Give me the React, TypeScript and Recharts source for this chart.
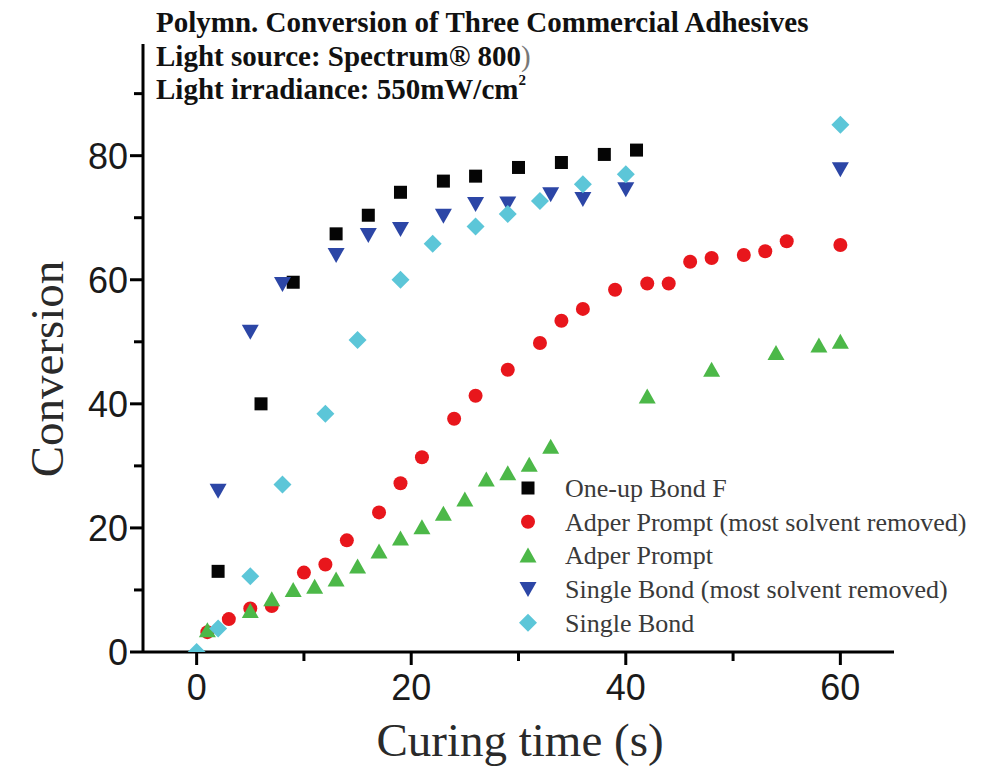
import React from 'react';
import { ScatterChart, Scatter, XAxis, YAxis } from 'recharts';

// ---- data (x = curing time s, y = conversion %) ----
const oneUpBondF: [number, number][] = [
  [2, 13.0], [6, 40.0], [9, 59.6], [13, 67.4], [16, 70.4], [19, 74.1], [23, 75.9],
  [26, 76.7], [30, 78.1], [34, 78.9], [38, 80.2], [41, 80.9],
];
const adperPromptDry: [number, number][] = [
  [1, 3.2], [3, 5.3], [5, 7.0], [7, 7.4], [10, 12.8], [12, 14.1], [14, 18.0], [17, 22.5],
  [19, 27.2], [21, 31.4], [24, 37.6], [26, 41.3], [29, 45.5], [32, 49.8], [34, 53.4],
  [36, 55.3], [39, 58.4], [42, 59.4], [44, 59.4], [46, 62.9], [48, 63.5], [51, 64.0],
  [53, 64.6], [55, 66.2], [60, 65.6],
];
const adperPrompt: [number, number][] = [
  [1, 3.5], [5, 6.6], [7, 8.5], [9, 10.0], [11, 10.5], [13, 11.7], [15, 13.8], [17, 16.2],
  [19, 18.3], [21, 20.1], [23, 22.3], [25, 24.6], [27, 27.8], [29, 28.8], [31, 30.2],
  [33, 33.1], [42, 41.2], [48, 45.5], [54, 48.2], [58, 49.4], [60, 50.0],
];
const singleBondDry: [number, number][] = [
  [2, 26.0], [5, 51.6], [8, 59.3], [13, 64.0], [16, 67.2], [19, 68.2], [23, 70.3],
  [26, 72.2], [29, 72.3], [33, 73.8], [36, 73.0], [40, 74.6], [60, 77.8],
];
const singleBond: [number, number][] = [
  [0, 0], [2, 3.8], [5, 12.2], [8, 27.0], [12, 38.4], [15, 50.3], [19, 60.0], [22, 65.8],
  [26, 68.6], [29, 70.6], [32, 72.7], [36, 75.4], [40, 77.0], [60, 85.0],
];

const xTicks = [0, 10, 20, 30, 40, 50, 60];
const xLabeled = [0, 20, 40, 60];
const yTicks = [0, 10, 20, 30, 40, 50, 60, 70, 80, 90];
const yLabeled = [0, 20, 40, 60, 80];

const titleLines = [
  'Polymn. Conversion of Three Commercial Adhesives',
  'Light source: Spectrum® 800',
  'Light irradiance: 550mW/cm',
];

type ShapeKind = 'square' | 'circle' | 'triangleUp' | 'triangleDown' | 'diamond';

const SERIES: { name: string; data: [number, number][]; color: string; shape: ShapeKind }[] = [
  { name: 'One-up Bond F', data: oneUpBondF, color: '#050505', shape: 'square' },
  { name: 'Adper Prompt (most solvent removed)', data: adperPromptDry, color: '#e8161c', shape: 'circle' },
  { name: 'Adper Prompt', data: adperPrompt, color: '#4cb848', shape: 'triangleUp' },
  { name: 'Single Bond (most solvent removed)', data: singleBondDry, color: '#2c46a6', shape: 'triangleDown' },
  { name: 'Single Bond', data: singleBond, color: '#5cc6d8', shape: 'diamond' },
];

function Marker({ kind, cx, cy, color }: { kind: ShapeKind; cx: number; cy: number; color: string }) {
  switch (kind) {
    case 'square':
      return <rect x={cx - 6.5} y={cy - 6.5} width={13} height={13} fill={color} />;
    case 'circle':
      return <circle cx={cx} cy={cy} r={7} fill={color} />;
    case 'triangleUp':
      return <polygon points={`${cx},${cy - 8} ${cx - 8.5},${cy + 7} ${cx + 8.5},${cy + 7}`} fill={color} />;
    case 'triangleDown':
      return <polygon points={`${cx - 8.5},${cy - 7} ${cx + 8.5},${cy - 7} ${cx},${cy + 8}`} fill={color} />;
    case 'diamond':
      return <polygon points={`${cx},${cy - 9} ${cx + 9},${cy} ${cx},${cy + 9} ${cx - 9},${cy}`} fill={color} />;
  }
  return null;
}

const TICK_FONT = '"Liberation Sans", Arial, sans-serif';
const SERIF = '"Liberation Serif", "Times New Roman", serif';

function XTick(props: any) {
  const { x, y, payload } = props;
  const v = payload.value;
  const major = xLabeled.includes(v);
  return (
    <g>
      <line x1={x} y1={y} x2={x} y2={y + (major ? 13 : 9)} stroke="#000" strokeWidth={3} />
      {major && (
        <text x={x} y={y + 48} textAnchor="middle" fontSize={36} fontFamily={TICK_FONT} fill="#1a1a1a">
          {v}
        </text>
      )}
    </g>
  );
}

function YTick(props: any) {
  const { x, y, payload } = props;
  const v = payload.value;
  const major = yLabeled.includes(v);
  return (
    <g>
      <line x1={x} y1={y} x2={x - (major ? 13 : 9)} y2={y} stroke="#000" strokeWidth={3} />
      {major && (
        <text x={x - 15} y={y + 13} textAnchor="end" fontSize={36} fontFamily={TICK_FONT} fill="#1a1a1a">
          {v}
        </text>
      )}
    </g>
  );
}

export default function App() {
  return (
    <div style={{ position: 'absolute', left: 0, top: 0, width: 984, height: 771, background: '#fff' }}>
      <ScatterChart width={984} height={771} margin={{ top: 44, right: 90, bottom: 59, left: 83 }}>
        <XAxis
          type="number"
          dataKey="x"
          domain={[-5, 65]}
          ticks={xTicks}
          interval={0}
          height={60}
          tickSize={0}
          tickMargin={0}
          tickLine={false}
          axisLine={{ stroke: '#000', strokeWidth: 3 }}
          tick={<XTick />}
          allowDataOverflow
        />
        <YAxis
          type="number"
          dataKey="y"
          domain={[0, 98]}
          ticks={yTicks}
          interval={0}
          width={60}
          tickSize={0}
          tickMargin={0}
          tickLine={false}
          axisLine={{ stroke: '#000', strokeWidth: 3 }}
          tick={<YTick />}
          allowDataOverflow
        />
        {SERIES.map((s) => (
          <Scatter
            key={s.name}
            name={s.name}
            data={s.data.map(([x, y]) => ({ x, y }))}
            fill={s.color}
            isAnimationActive={false}
            shape={(p: any) => <Marker kind={s.shape} cx={p.cx} cy={p.cy} color={s.color} />}
          />
        ))}
      </ScatterChart>
      <svg
        width={984}
        height={771}
        style={{ position: 'absolute', left: 0, top: 0, pointerEvents: 'none' }}
      >
        {/* title block */}
        <text x={156} y={32} fontSize={29} fontWeight="bold" fontFamily={SERIF} fill="#111">
          {titleLines[0]}
        </text>
        <text x={156} y={66} fontSize={29} fontWeight="bold" fontFamily={SERIF} fill="#111">
          {titleLines[1]}
          <tspan fontWeight="normal" fill="#777">)</tspan>
        </text>
        <text x={156} y={99} fontSize={29} fontWeight="bold" fontFamily={SERIF} fill="#111">
          {titleLines[2]}
          <tspan fontSize={15} dy={-14}>2</tspan>
        </text>
        {/* axis titles */}
        <text
          transform="translate(63,369) rotate(-90)"
          textAnchor="middle"
          fontSize={47}
          fontFamily={SERIF}
          fill="#2a2a2a"
        >
          Conversion
        </text>
        <text x={520} y={756} textAnchor="middle" fontSize={47} fontFamily={SERIF} fill="#2a2a2a">
          Curing time (s)
        </text>
        {/* legend */}
        {SERIES.map((s, i) => {
          const cy = 488 + i * 33.7;
          return (
            <g key={s.name}>
              <Marker kind={s.shape} cx={528} cy={cy} color={s.color} />
              <text x={565} y={cy + 9} fontSize={26} fontFamily={SERIF} fill="#3a3a3a">
                {s.name}
              </text>
            </g>
          );
        })}
      </svg>
    </div>
  );
}
